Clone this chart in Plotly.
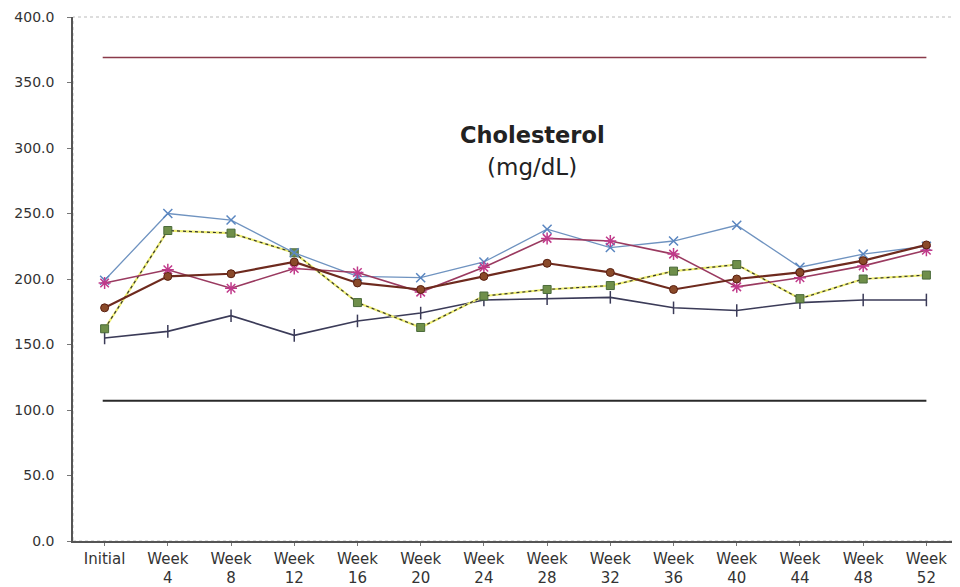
import plotly.graph_objects as go

categories = ["Initial", "Week<br>4", "Week<br>8", "Week<br>12", "Week<br>16", "Week<br>20",
              "Week<br>24", "Week<br>28", "Week<br>32", "Week<br>36", "Week<br>40",
              "Week<br>44", "Week<br>48", "Week<br>52"]

blue_x = [199, 250, 245, 220, 202, 201, 213, 238, 224, 229, 241, 209, 219, 225]
magenta_star = [197, 207, 193, 208, 205, 190, 209, 231, 229, 219, 194, 201, 210, 222]
brown_circle = [178, 202, 204, 213, 197, 192, 202, 212, 205, 192, 200, 205, 214, 226]
green_square = [162, 237, 235, 220, 182, 163, 187, 192, 195, 206, 211, 185, 200, 203]
navy_cross = [155, 160, 172, 157, 168, 174, 184, 185, 186, 178, 176, 182, 184, 184]

upper_limit = 369
lower_limit = 107

y_ticks = [0, 50, 100, 150, 200, 250, 300, 350, 400]

FONT = "DejaVu Sans, Liberation Sans, Arial"

fig = go.Figure()

fig.add_trace(go.Scatter(x=categories, y=navy_cross, mode="lines+markers",
                         line=dict(color="#3b3b58", width=1.6),
                         marker=dict(symbol="line-ns", size=9, line=dict(color="#3b3b58", width=1.5))))
fig.add_trace(go.Scatter(x=categories, y=green_square, mode="lines",
                         line=dict(color="#eeee70", width=2.2)))
fig.add_trace(go.Scatter(x=categories, y=green_square, mode="lines+markers",
                         line=dict(color="#333333", width=1.2, dash="dot"),
                         marker=dict(symbol="square", size=8, color="#6f8f4a",
                                     line=dict(color="#4a6a3a", width=1))))
fig.add_trace(go.Scatter(x=categories, y=blue_x, mode="lines+markers",
                         line=dict(color="#6f93c0", width=1.3),
                         marker=dict(symbol="x-thin", size=9, line=dict(color="#5a86c0", width=1.5))))
fig.add_trace(go.Scatter(x=categories, y=magenta_star, mode="lines+markers",
                         line=dict(color="#9a3a60", width=1.6),
                         marker=dict(symbol="asterisk", size=10, line=dict(color="#c03a8a", width=1.5))))
fig.add_trace(go.Scatter(x=categories, y=brown_circle, mode="lines+markers",
                         line=dict(color="#6e2a1e", width=2.2),
                         marker=dict(symbol="circle", size=8, color="#8a4a2a",
                                     line=dict(color="#5a2010", width=1))))

fig.add_shape(type="line", xref="x", yref="y", x0=-0.03, x1=13,
              y0=upper_limit, y1=upper_limit, line=dict(color="#8a3a4a", width=1.5))
fig.add_shape(type="line", xref="x", yref="y", x0=-0.03, x1=13,
              y0=lower_limit, y1=lower_limit, line=dict(color="#2a2a2a", width=2))
fig.add_shape(type="rect", xref="paper", yref="paper", x0=0, x1=1, y0=0, y1=1,
              line=dict(color="#bbbbbb", width=1, dash="dot"), layer="below")

fig.add_annotation(text="<b>Cholesterol</b>", xref="paper", yref="paper",
                   x=0.519, y=0.775, showarrow=False, yanchor="middle",
                   font=dict(family=FONT, size=22.5, color="#222222"))
fig.add_annotation(text="(mg/dL)", xref="paper", yref="paper",
                   x=0.519, y=0.714, showarrow=False, yanchor="middle",
                   font=dict(family=FONT, size=23, color="#222222"))

fig.update_layout(
    width=960, height=587,
    margin=dict(l=65, r=10, t=9, b=54),
    paper_bgcolor="white", plot_bgcolor="white",
    showlegend=False,
    font=dict(family=FONT, size=15, color="#333333"),
)
fig.update_xaxes(showgrid=False, showline=True, linecolor="#555555", linewidth=1.5,
                 ticks="outside", ticklen=3, tickcolor="#777777", tickfont=dict(size=15),
                 range=[-0.5, 13.5], zeroline=False, automargin=False)
fig.update_yaxes(showgrid=False, showline=True, linecolor="#555555", linewidth=1.5,
                 ticks="outside", ticklen=4, tickcolor="#777777", tickvals=y_ticks,
                 tickformat=".1f", range=[0, 400], zeroline=False, tickfont=dict(size=14),
                 ticklabelstandoff=10, automargin=False, ticklabeloverflow="allow")

fig.write_html("out.html")
